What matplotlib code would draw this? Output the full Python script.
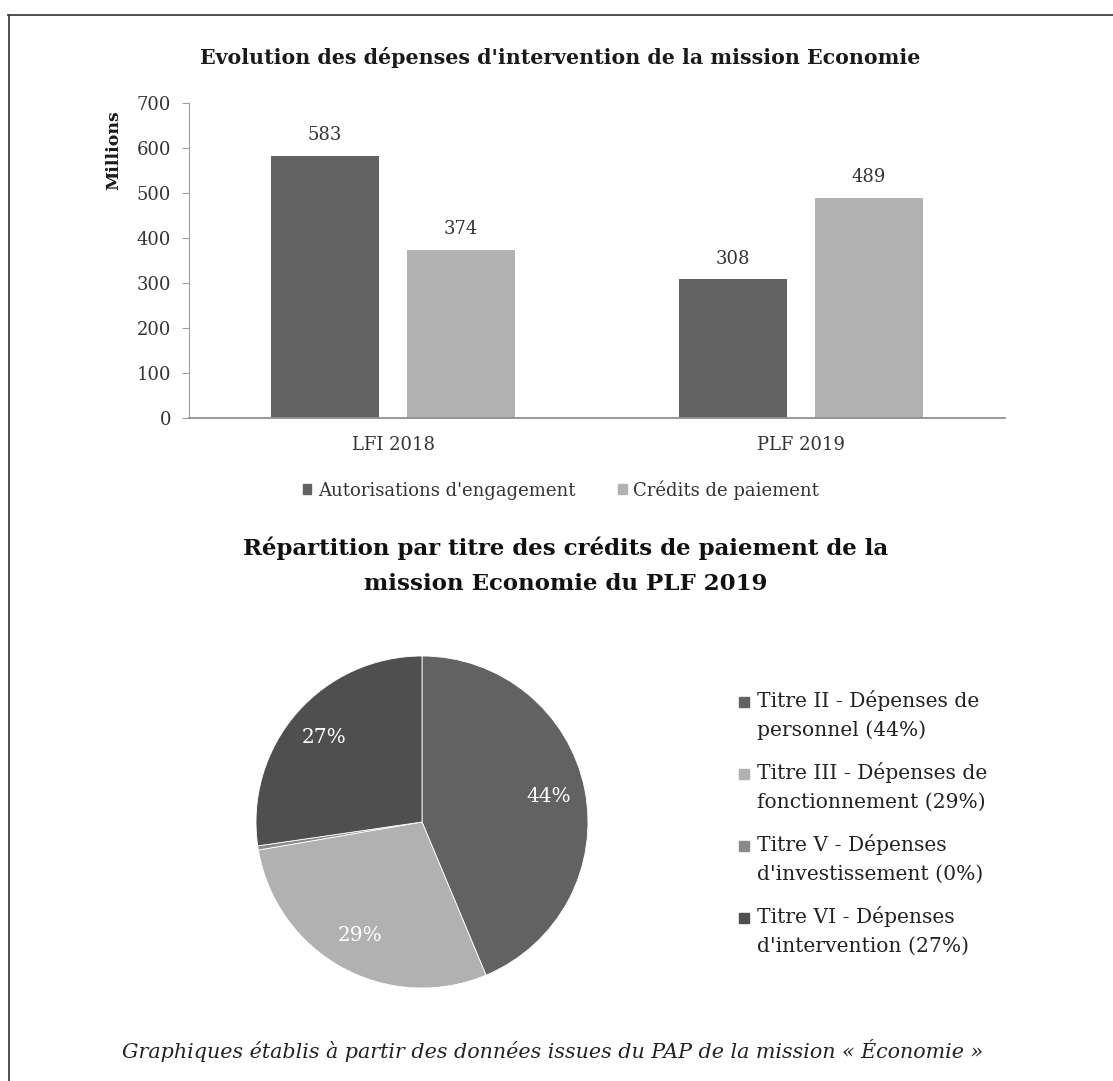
import matplotlib.pyplot as plt
import numpy as np
from matplotlib.patches import Patch, Rectangle
from matplotlib.lines import Line2D

# données
periods = ["LFI 2018", "PLF 2019"]
ae = [583, 308]
cp = [374, 489]
bar_series = ["Autorisations d'engagement", "Crédits de paiement"]

titres = ["Titre II - Dépenses de\npersonnel",
          "Titre III - Dépenses de\nfonctionnement",
          "Titre V - Dépenses\nd'investissement",
          "Titre VI - Dépenses\nd'intervention"]
parts = [43.7, 28.6, 0.4, 27.3]

SERIF = "DejaVu Serif"
dark = "#626262"
light = "#b2b2b2"
pie_colors = ["#626262", "#b1b1b1", "#8a8a8a", "#4f4f4f"]
W, H = 1113, 1081

fig = plt.figure(figsize=(W / 100, H / 100), dpi=100)

# cadre (haut + gauche)
fig.add_artist(Line2D([8 / W, 1], [1 - 14.5 / H] * 2, color="#404040", lw=1.3))
fig.add_artist(Line2D([8.5 / W] * 2, [0, 1 - 14.5 / H], color="#404040", lw=1.3))

# --- histogramme ---
ax = fig.add_axes([189 / W, 1 - 418 / H, 816 / W, 315 / H])
x = np.arange(len(periods))
w = 0.265
b1 = ax.bar(x - 0.167, ae, w, color=dark)
b2 = ax.bar(x + 0.167, cp, w, color=light)
for bars in (b1, b2):
    for r in bars:
        ax.annotate(str(int(r.get_height())), (r.get_x() + r.get_width() / 2, r.get_height()),
                    xytext=(0, 15), textcoords="offset points", ha="center", va="center",
                    fontsize=13, family=SERIF, color="#333333")
ax.set_xlim(-0.5, 1.5)
ax.set_ylim(0, 700)
ax.set_yticks(range(0, 701, 100))
ax.set_xticks(x)
ax.set_xticklabels(periods, family=SERIF, fontsize=13)
for t in ax.get_yticklabels():
    t.set_family(SERIF)
    t.set_fontsize(13)
ax.tick_params(axis="x", length=0, pad=13, colors="#333333")
ax.tick_params(axis="y", length=5, color="#a0a0a0", labelcolor="#333333", pad=8)
for s in ["top", "right"]:
    ax.spines[s].set_visible(False)
ax.spines["left"].set_color("#a0a0a0")
ax.spines["bottom"].set_color("#909090")
ax.spines["bottom"].set_linewidth(1.3)
ax.set_ylabel("Millions", family=SERIF, fontsize=12.5, fontweight="bold", color="#1a1a1a")
ax.yaxis.set_label_coords((122 - 189) / 816, (418 - 150) / 315)

fig.text(560 / W, 1 - 58 / H, "Evolution des dépenses d'intervention de la mission Economie",
         ha="center", va="center", family=SERIF, fontweight="bold", fontsize=14.8, color="#1a1a1a")

fig.legend([Patch(color=dark), Patch(color=light)], bar_series,
           loc="center", bbox_to_anchor=(561 / W, 1 - 490 / H), ncol=2, frameon=False,
           prop={"family": SERIF, "size": 13}, handlelength=0.45, handleheight=0.45,
           handletextpad=0.35, columnspacing=2.4, labelcolor="#333333")

# --- camembert ---
fig.text(566 / W, 1 - 548 / H, "Répartition par titre des crédits de paiement de la",
         ha="center", va="center", family=SERIF, fontweight="bold", fontsize=16.5, color="#111111")
fig.text(566 / W, 1 - 584 / H, "mission Economie du PLF 2019",
         ha="center", va="center", family=SERIF, fontweight="bold", fontsize=16.5, color="#111111")

pax = fig.add_axes([(422 - 166) / W, 1 - (822 + 166) / H, 332 / W, 332 / H])
wedges, _, autotexts = pax.pie(parts, colors=pie_colors, startangle=90, counterclock=False,
                               autopct=lambda p: f"{p:.0f}%" if p >= 1 else "",
                               pctdistance=0.78,
                               wedgeprops={"edgecolor": "white", "linewidth": 0.6},
                               textprops={"family": SERIF, "fontsize": 14.5, "color": "white"})
pax.set_xlim(-1, 1)
pax.set_ylim(-1, 1)
pax.set_aspect("equal")

# légende du camembert (carré aligné sur la première ligne)
labels = [f"{t} ({p:.0f}%)" for t, p in zip(titres, parts)]
for i, (lab, c) in enumerate(zip(labels, pie_colors)):
    y = 702 + i * 72
    fig.text(757 / W, 1 - (y - 12) / H, lab, ha="left", va="top", family=SERIF,
             fontsize=14.6, color="#222222", linespacing=1.62)
    fig.add_artist(Rectangle(((744 - 5) / W, 1 - (y + 5) / H), 10 / W, 10 / H,
                             color=c, transform=fig.transFigure))

# source
fig.text(553 / W, 1 - 1050 / H,
         "Graphiques établis à partir des données issues du PAP de la mission « Économie »",
         ha="center", va="center", family=SERIF, style="italic", fontsize=14.9, color="#222222")

fig.savefig("out.png", dpi=100, facecolor="white")
